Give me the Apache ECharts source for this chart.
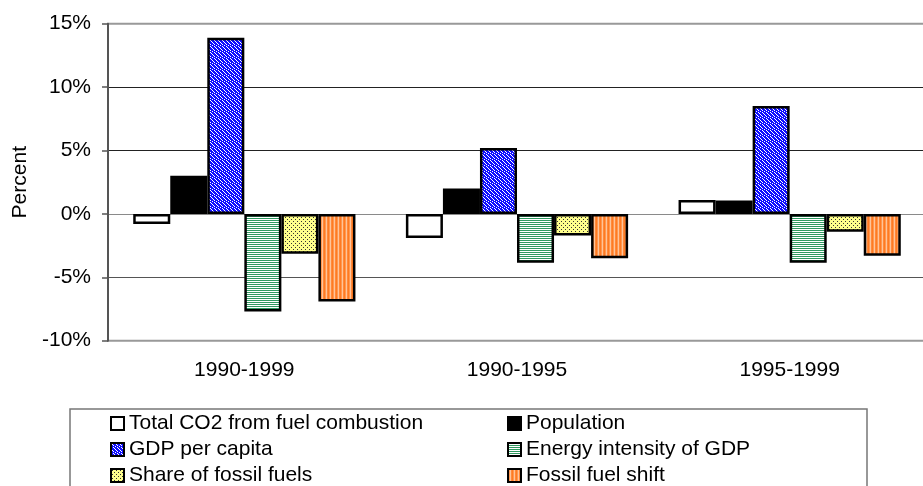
<!DOCTYPE html>
<html>
<head>
<meta charset="utf-8">
<title>CO2 decomposition</title>
<script src="https://cdn.jsdelivr.net/npm/echarts@6/dist/echarts.min.js"></script>
<style>
  html, body { margin: 0; padding: 0; background: #fff; }
  #chart { width: 923px; height: 486px; }
</style>
</head>
<body>
<div id="chart"></div>
<script>
// data (percent)
var categories = ['1990-1999', '1990-1995', '1995-1999'];
var seriesNames = ['Total CO2 from fuel combustion', 'Population', 'GDP per capita',
  'Energy intensity of GDP', 'Share of fossil fuels', 'Fossil fuel shift'];
var co2Total = [-0.8, -1.9, 1.1];
var population = [3.0, 2.0, 1.05];
var gdpPerCapita = [13.9, 5.2, 8.5];
var energyIntensity = [-7.7, -3.85, -3.85];
var fossilShare = [-3.15, -1.7, -1.4];
var fuelShift = [-6.9, -3.5, -3.3];
var yTicks = [-10, -5, 0, 5, 10, 15];

// little canvas tiles for the hatched fills
function tile(w, h, draw) {
  var c = document.createElement('canvas');
  c.width = w; c.height = h;
  draw(c.getContext('2d'));
  return { image: c, repeat: 'repeat' };
}

var bluePattern = tile(4, 6, function(ctx) {
  ctx.fillStyle = '#1010ff';
  ctx.fillRect(0, 0, 4, 6);
  ctx.fillStyle = '#ffffff';
  // broken "\" diagonals
  ctx.fillRect(0, 0, 1, 1);
  ctx.fillRect(1, 1, 1, 1);
  ctx.fillRect(2, 2, 1, 1);
  ctx.fillRect(2, 4, 1, 1);
  ctx.fillRect(3, 5, 1, 1);
  ctx.fillRect(0, 3, 1, 1);
});

var greenPattern = tile(2, 2, function(ctx) {
  ctx.fillStyle = '#ffffff';
  ctx.fillRect(0, 0, 2, 2);
  ctx.fillStyle = '#2f9960';
  ctx.fillRect(0, 0, 2, 1);
});

var yellowPattern = tile(4, 4, function(ctx) {
  ctx.fillStyle = '#ffff8c';
  ctx.fillRect(0, 0, 4, 4);
  ctx.fillStyle = '#333';
  ctx.fillRect(1, 1, 1, 1);
  ctx.fillRect(3, 3, 1, 1);
});

var orangePattern = tile(4, 1, function(ctx) {
  var cols = ['#ff7a22', '#ff9850', '#ffc49a', '#ff8a3a'];
  for (var i = 0; i < 4; i++) {
    ctx.fillStyle = cols[i];
    ctx.fillRect(i, 0, 1, 1);
  }
});

var fills = ['#ffffff', '#000000', bluePattern, greenPattern, yellowPattern, orangePattern];
var values = [co2Total, population, gdpPerCapita, energyIntensity, fossilShare, fuelShift];

var font = 'Liberation Sans, Arial, sans-serif';

var series = [];
for (var i = 0; i < values.length; i++) {
  series.push({
    name: seriesNames[i],
    type: 'bar',
    data: values[i],
    barGap: '0%',
    barCategoryGap: '18.5%',
    itemStyle: {
      color: fills[i],
      borderColor: '#000',
      borderWidth: 2.5
    }
  });
}

var legendText = { fontFamily: font, fontSize: 21, color: '#000', lineHeight: 21 };

var chart = echarts.init(document.getElementById('chart'));
var option = {
  backgroundColor: '#fff',
  animation: false,
  textStyle: { fontFamily: font, color: '#000' },
  grid: {
    left: 108,
    right: -3,
    top: 23.7,
    bottom: 145.3,
    outerBoundsMode: 'none',
    show: true,
    borderColor: '#999',
    borderWidth: 2,
    backgroundColor: 'transparent'
  },
  legend: [
    {
      data: [seriesNames[0], seriesNames[2], seriesNames[4]],
      orient: 'vertical',
      left: 110,
      top: 413,
      height: 120,
      padding: 0,
      itemGap: 5,
      itemWidth: 13,
      itemHeight: 13,
      icon: 'rect',
      textStyle: legendText
    },
    {
      data: [seriesNames[1], seriesNames[3], seriesNames[5]],
      orient: 'vertical',
      left: 507,
      top: 413,
      height: 120,
      padding: 0,
      itemGap: 5,
      itemWidth: 13,
      itemHeight: 13,
      icon: 'rect',
      textStyle: legendText
    }
  ],
  xAxis: {
    type: 'category',
    data: categories,
    axisLine: { show: false },
    axisTick: { show: false },
    axisLabel: { fontFamily: font, fontSize: 21, color: '#000', margin: 19 }
  },
  yAxis: {
    type: 'value',
    min: yTicks[0],
    max: yTicks[yTicks.length - 1],
    interval: 5,
    name: 'Percent',
    nameLocation: 'middle',
    nameGap: 76,
    nameTextStyle: { fontFamily: font, fontSize: 21, color: '#000' },
    axisLine: { show: true, lineStyle: { color: '#555', width: 2 } },
    axisTick: { show: true, length: 6, lineStyle: { color: '#555', width: 1.5 } },
    axisLabel: { fontFamily: font, fontSize: 21, color: '#000', margin: 17, formatter: '{value}%' },
    splitLine: {
      show: true,
      lineStyle: { color: ['#999', '#555', '#8a8a8a', '#222', '#222', '#999'], width: 1.2 }
    }
  },
  graphic: [
    {
      type: 'rect',
      shape: { x: 70, y: 409, width: 797, height: 120 },
      style: { fill: 'none', stroke: '#777', lineWidth: 1.5 },
      silent: true
    }
  ],
  series: series
};

chart.setOption(option);
window.onresize = chart.resize;
</script>
</body>
</html>
